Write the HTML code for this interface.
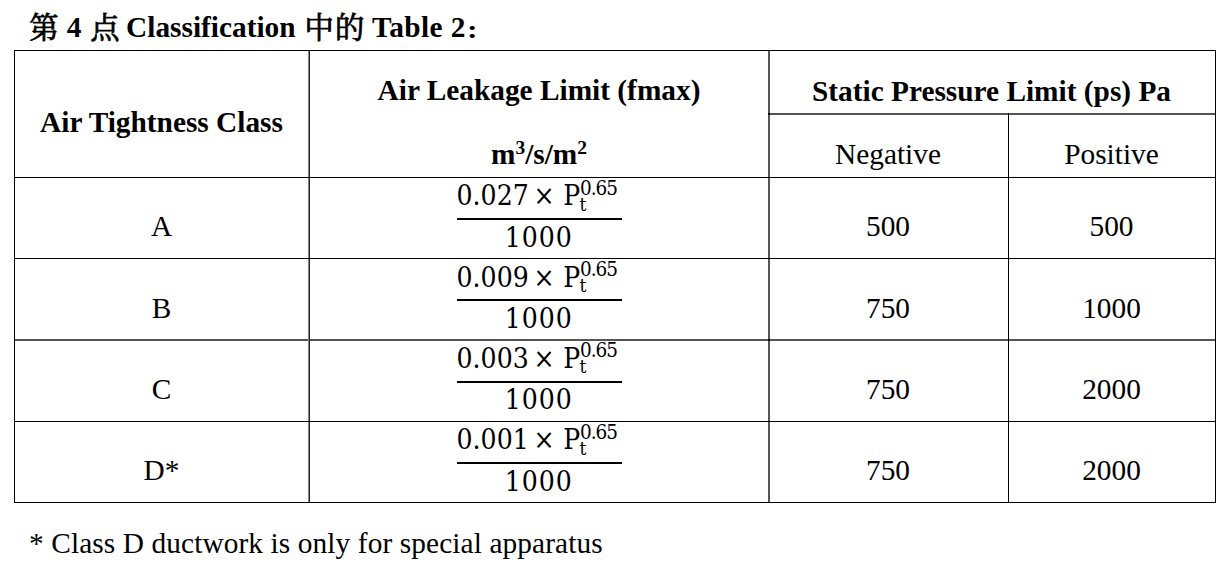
<!DOCTYPE html>
<html><head><meta charset="utf-8">
<style>
html,body{margin:0;padding:0;background:#fff;}
body{width:1221px;height:565px;position:relative;overflow:hidden;
  font-family:"Liberation Serif","Noto Serif CJK SC",serif;color:#000;font-size:29.33px;}
.t{position:absolute;white-space:nowrap;line-height:34px;height:34px;}
.c{text-align:center;}
.b{font-weight:bold;}
.cj{font-family:"Noto Serif CJK SC",serif;font-weight:400;-webkit-text-stroke:0.8px #000;}
.h{position:absolute;background:#000;height:1px;}
.v{position:absolute;background:#000;width:1px;}
.m{position:absolute;white-space:nowrap;line-height:34px;height:34px;font-family:"DejaVu Serif",serif;font-stretch:condensed;font-size:28px;}
.fm{position:absolute;left:0;width:1px;height:1px;}
.bar{position:absolute;left:456.5px;width:165px;top:0;height:2px;background:#000;}
.n1{left:456.6px;top:-38.8px;}
.x{left:533.4px;top:-38.8px;}
.p{left:563.2px;top:-38.8px;}
.sb{left:579.6px;top:-31.1px;font-size:19px;}
.sp{left:580px;top:-47.4px;font-size:20.5px;letter-spacing:-1px;}
.dn{left:504.8px;top:2.9px;letter-spacing:1px;}
</style></head><body>

<!-- title -->
<div class="t cj" style="left:29.3px;top:8.3px;">第</div>
<div class="t b" style="left:66.8px;top:10px;">4</div>
<div class="t cj" style="left:90.3px;top:8.3px;">点</div>
<div class="t b" style="left:126.1px;top:10px;">Classification</div>
<div class="t cj" style="left:304.4px;top:7.7px;">中</div>
<div class="t cj" style="left:334.9px;top:8.3px;">的</div>
<div class="t b" style="left:371.9px;top:10px;letter-spacing:0.4px;">Table 2</div>
<div class="t" style="left:464.6px;top:16.2px;font-family:'Noto Serif CJK SC',serif;font-weight:900;font-size:24px;transform:scale(1.05,0.8);transform-origin:0 0;">：</div>

<!-- table lines -->
<div class="h" style="left:769px;width:446px;top:113px;height:2px;background:#555;"></div>
<div class="h" style="left:14px;width:1202px;top:339px;height:2px;background:#555;"></div>
<div class="v" style="left:14px;height:453px;top:50px;"></div>
<div class="v" style="left:308px;height:453px;top:50px;background:#888;"></div>
<div class="v" style="left:309px;height:453px;top:50px;background:#222;"></div>
<div class="v" style="left:768px;height:453px;top:50px;width:2px;background:#555;"></div>
<div class="v" style="left:1008px;height:389px;top:113px;"></div>
<div class="v" style="left:1215px;height:453px;top:50px;"></div>
<div style="position:absolute;left:768px;top:339px;width:2px;height:2px;background:#111;"></div>
<div style="position:absolute;left:768px;top:113px;width:2px;height:2px;background:#111;"></div>
<div class="h" style="left:14px;width:1202px;top:50px;"></div>
<div class="h" style="left:14px;width:1202px;top:177px;"></div>
<div class="h" style="left:14px;width:1202px;top:258px;"></div>
<div class="h" style="left:14px;width:1202px;top:421px;"></div>
<div class="h" style="left:14px;width:1202px;top:502px;"></div>

<!-- header -->
<div class="t c b" style="left:14px;width:295px;top:104.6px;">Air Tightness Class</div>
<div class="t c b" style="left:309px;width:460px;top:73.4px;">Air Leakage Limit (fmax)</div>
<div class="t c b" style="left:309px;width:460px;top:136.7px;">m<span style="font-size:19.5px;position:relative;top:-10px;">3</span>/s/m<span style="font-size:19.5px;position:relative;top:-10px;">2</span></div>
<div class="t c b" style="left:768px;width:447px;top:74px;">Static Pressure Limit (ps) Pa</div>
<div class="t c" style="left:768px;width:240px;top:136.7px;">Negative</div>
<div class="t c" style="left:1008px;width:207px;top:136.7px;">Positive</div>

<!-- row 1 -->
<div class="t c" style="left:14px;width:295px;top:208.7px;">A</div>
<div class="fm" style="top:218.1px;">
  <div class="bar"></div>
  <div class="m n1">0.027</div><div class="m x">×</div><div class="m p">P</div>
  <div class="m sb">t</div><div class="m sp">0.65</div>
  <div class="m dn">1000</div>
</div>
<div class="t c" style="left:768px;width:240px;top:208.7px;">500</div>
<div class="t c" style="left:1008px;width:207px;top:208.7px;">500</div>

<!-- row 2 -->
<div class="t c" style="left:14px;width:295px;top:290.6px;">B</div>
<div class="fm" style="top:299.3px;">
  <div class="bar"></div>
  <div class="m n1">0.009</div><div class="m x">×</div><div class="m p">P</div>
  <div class="m sb">t</div><div class="m sp">0.65</div>
  <div class="m dn">1000</div>
</div>
<div class="t c" style="left:768px;width:240px;top:290.6px;">750</div>
<div class="t c" style="left:1008px;width:207px;top:290.6px;">1000</div>

<!-- row 3 -->
<div class="t c" style="left:14px;width:295px;top:372.2px;">C</div>
<div class="fm" style="top:380.5px;">
  <div class="bar"></div>
  <div class="m n1">0.003</div><div class="m x">×</div><div class="m p">P</div>
  <div class="m sb">t</div><div class="m sp">0.65</div>
  <div class="m dn">1000</div>
</div>
<div class="t c" style="left:768px;width:240px;top:372.2px;">750</div>
<div class="t c" style="left:1008px;width:207px;top:372.2px;">2000</div>

<!-- row 4 -->
<div class="t c" style="left:14px;width:295px;top:452.7px;">D*</div>
<div class="fm" style="top:462px;">
  <div class="bar"></div>
  <div class="m n1">0.001</div><div class="m x">×</div><div class="m p">P</div>
  <div class="m sb">t</div><div class="m sp">0.65</div>
  <div class="m dn">1000</div>
</div>
<div class="t c" style="left:768px;width:240px;top:452.7px;">750</div>
<div class="t c" style="left:1008px;width:207px;top:452.7px;">2000</div>

<!-- footnote -->
<div class="t" style="left:29px;top:526px;letter-spacing:0.11px;">* Class D ductwork is only for special apparatus</div>

</body></html>
